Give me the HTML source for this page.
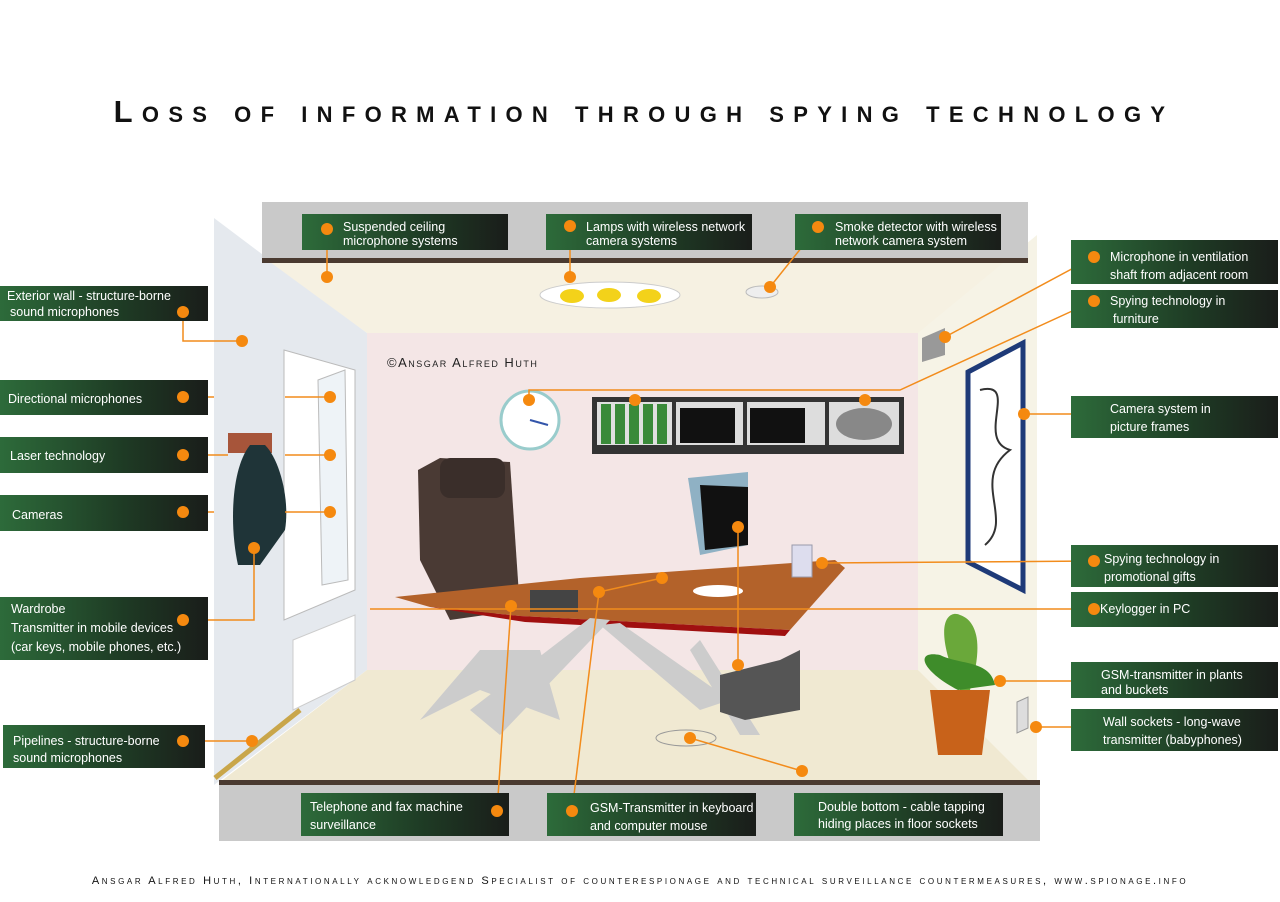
<!DOCTYPE html>
<html><head><meta charset="utf-8"><style>
body{margin:0;background:#fff;width:1280px;height:902px;overflow:hidden}
svg{display:block}
.t{font-family:"Liberation Sans",sans-serif;font-size:12.5px;fill:#fff}
</style></head><body>
<svg width="1280" height="902" viewBox="0 0 1280 902" xmlns="http://www.w3.org/2000/svg">
<defs>
<linearGradient id="g" x1="0" x2="1"><stop offset="0" stop-color="#2d6b3a"/><stop offset="0.6" stop-color="#1e3a24"/><stop offset="1" stop-color="#1a1d1a"/></linearGradient>
</defs>
<text x="644" y="122" text-anchor="middle" font-family="Liberation Sans,sans-serif" font-size="31" font-weight="bold" style="font-variant:small-caps" letter-spacing="9.3" fill="#111">Loss of information through spying technology</text>
<!-- room -->
<polygon points="214,218 367,333 367,670 214,785" fill="#e5e9ee"/>
<polygon points="270,262 1028,262 918,333 367,333" fill="#f6f1e2"/>
<polygon points="918,333 1037,235 1037,815 918,670" fill="#f6f3e6"/>
<rect x="367" y="333" width="551" height="337" fill="#f4e6e6"/>
<polygon points="367,670 918,670 1030,782 220,782" fill="#f0e9d2"/>
<rect x="262" y="202" width="766" height="58" fill="#c9c9c9"/>
<rect x="262" y="258" width="766" height="5" fill="#4a3a30"/>
<rect x="219" y="783" width="821" height="58" fill="#c9c9c9"/>
<rect x="219" y="780" width="821" height="5" fill="#4a3a30"/>
<text x="387" y="367" font-family="Liberation Sans,sans-serif" font-size="13" style="font-variant:small-caps" letter-spacing="1.5" fill="#222">©Ansgar Alfred Huth</text>
<!-- lamps -->
<ellipse cx="610" cy="295" rx="70" ry="13" fill="#fff" stroke="#ccc"/>
<ellipse cx="572" cy="296" rx="12" ry="7" fill="#f3d21a"/><ellipse cx="609" cy="295" rx="12" ry="7" fill="#f3d21a"/><ellipse cx="649" cy="296" rx="12" ry="7" fill="#f3d21a"/>
<ellipse cx="762" cy="292" rx="16" ry="6" fill="#eee" stroke="#bbb"/>
<!-- window -->
<polygon points="284,350 355,370 355,590 284,620" fill="#fff" stroke="#bbb"/>
<polygon points="318,380 345,370 348,580 322,585" fill="#eef3f7" stroke="#bbb"/>
<!-- coat -->
<rect x="228" y="433" width="44" height="20" fill="#a7553a"/>
<path d="M250,445 C230,470 230,530 238,565 L260,565 L285,530 C290,500 280,460 265,445Z" fill="#1f3438"/>
<!-- radiator -->
<polygon points="293,640 355,615 355,680 293,710" fill="#fff" stroke="#ccc"/>
<line x1="300" y1="710" x2="215" y2="778" stroke="#c9a64a" stroke-width="5"/>
<!-- clock & shelf -->
<circle cx="530" cy="420" r="29" fill="#fff" stroke="#9cc" stroke-width="3"/>
<line x1="530" y1="420" x2="548" y2="425" stroke="#35a" stroke-width="2"/>
<rect x="592" y="397" width="312" height="57" fill="#333"/>
<rect x="597" y="402" width="75" height="43" fill="#e0e0e0"/>
<rect x="601" y="404" width="10" height="40" fill="#3a8a3a"/><rect x="615" y="404" width="10" height="40" fill="#3a8a3a"/><rect x="629" y="404" width="10" height="40" fill="#3a8a3a"/><rect x="643" y="404" width="10" height="40" fill="#3a8a3a"/><rect x="657" y="404" width="10" height="40" fill="#3a8a3a"/>
<rect x="676" y="402" width="67" height="43" fill="#ddd"/><rect x="680" y="408" width="55" height="35" fill="#111"/>
<rect x="747" y="402" width="78" height="43" fill="#ddd"/><rect x="750" y="408" width="55" height="35" fill="#111"/>
<rect x="829" y="402" width="70" height="43" fill="#ddd"/><ellipse cx="864" cy="424" rx="28" ry="16" fill="#888"/>
<!-- vent & picture -->
<polygon points="922,338 945,328 945,355 922,362" fill="#999"/>
<polygon points="968,372 1023,343 1023,590 968,562" fill="#fff" stroke="#1e3a78" stroke-width="5"/>
<path d="M980,390 C1020,380 975,440 1010,450 C970,480 1015,520 985,545" stroke="#333" stroke-width="2" fill="none"/>
<!-- chair -->
<polygon points="418,470 440,458 510,462 520,610 450,620 420,560" fill="#4a3a34"/>
<rect x="440" y="458" width="65" height="40" rx="10" fill="#3a2e2a"/>
<polygon points="480,650 420,720 480,690 560,720 540,650" fill="#ccc"/>
<!-- desk -->
<polygon points="395,597 580,578 835,560 845,568 790,630 520,616 430,607" fill="#b3622a"/>
<polygon points="430,607 520,616 790,630 785,636 525,622" fill="#a01010"/>
<polygon points="470,710 590,618 610,620 500,735" fill="#ccc"/>
<polygon points="700,710 600,625 620,623 730,700" fill="#ccc"/>
<polygon points="700,640 760,735 740,735 690,650" fill="#ccc"/>
<!-- monitor -->
<polygon points="688,478 748,472 748,545 700,555" fill="#8fb1c4"/>
<polygon points="700,485 748,487 748,545 705,550" fill="#111"/>
<polygon points="720,675 780,660 800,650 800,710 745,720 720,712" fill="#555"/>
<rect x="530" y="590" width="48" height="22" fill="#444"/>
<ellipse cx="718" cy="591" rx="25" ry="6" fill="#fff"/>
<rect x="792" y="545" width="20" height="32" fill="#dde" stroke="#99a"/>
<!-- plant -->
<path d="M930,690 L990,690 L982,755 L938,755Z" fill="#c8621a"/>
<path d="M960,690 C930,620 950,610 960,615 C975,620 985,640 970,690Z" fill="#6aa83a"/>
<path d="M958,690 C920,670 915,650 940,655 C960,665 990,660 995,685Z" fill="#3e8c2a"/>
<polygon points="1017,702 1028,697 1028,728 1017,733" fill="#ddd" stroke="#999"/>
<ellipse cx="686" cy="738" rx="30" ry="8" fill="none" stroke="#999"/>
<!-- connector lines -->
<g stroke="#f28c1c" stroke-width="1.5" fill="none">
<polyline points="183,312 183,341 242,341"/><line x1="183" y1="397" x2="214" y2="397"/><line x1="183" y1="455" x2="228" y2="455"/><line x1="183" y1="512" x2="214" y2="512"/>
<polyline points="183,620 254,620 254,548"/><line x1="183" y1="741" x2="252" y2="741"/>
<line x1="327" y1="229" x2="327" y2="277"/><line x1="570" y1="226" x2="570" y2="277"/><line x1="818" y1="227" x2="770" y2="287"/>
<line x1="1094" y1="257" x2="945" y2="337"/><polyline points="1094,301 900,390 529,390 529,400"/>
<line x1="285" y1="397" x2="330" y2="397"/><line x1="285" y1="455" x2="330" y2="455"/><line x1="285" y1="512" x2="330" y2="512"/>
<line x1="1024" y1="414" x2="1094" y2="414"/><line x1="1094" y1="561" x2="822" y2="563"/><line x1="1094" y1="609" x2="370" y2="609"/>
<line x1="1000" y1="681" x2="1094" y2="681"/><line x1="1036" y1="727" x2="1094" y2="727"/>
<line x1="497" y1="811" x2="511" y2="606"/><line x1="572" y1="811" x2="599" y2="592"/><polyline points="802,771 690,738"/>
<line x1="738" y1="527" x2="738" y2="665"/><line x1="599" y1="592" x2="662" y2="578"/>
</g>
<!-- label boxes -->
<g>
<rect x="0" y="286" width="208" height="35" fill="url(#g)"/><text class="t" x="7" y="300">Exterior wall - structure-borne</text><text class="t" x="10" y="316">sound microphones</text>
<rect x="0" y="380" width="208" height="35" fill="url(#g)"/><text class="t" x="8" y="403">Directional microphones</text>
<rect x="0" y="437" width="208" height="36" fill="url(#g)"/><text class="t" x="10" y="460">Laser technology</text>
<rect x="0" y="495" width="208" height="36" fill="url(#g)"/><text class="t" x="12" y="519">Cameras</text>
<rect x="0" y="597" width="208" height="63" fill="url(#g)"/><text class="t" x="11" y="613">Wardrobe</text><text class="t" x="11" y="632">Transmitter in mobile devices</text><text class="t" x="11" y="651">(car keys, mobile phones, etc.)</text>
<rect x="3" y="725" width="202" height="43" fill="url(#g)"/><text class="t" x="13" y="745">Pipelines - structure-borne</text><text class="t" x="13" y="762">sound microphones</text>
<rect x="302" y="214" width="206" height="36" fill="url(#g)"/><text class="t" x="343" y="231">Suspended ceiling</text><text class="t" x="343" y="245">microphone systems</text>
<rect x="546" y="214" width="206" height="36" fill="url(#g)"/><text class="t" x="586" y="231">Lamps with wireless network</text><text class="t" x="586" y="245">camera systems</text>
<rect x="795" y="214" width="206" height="36" fill="url(#g)"/><text class="t" x="835" y="231">Smoke detector with wireless</text><text class="t" x="835" y="245">network camera system</text>
<rect x="1071" y="240" width="207" height="44" fill="url(#g)"/><text class="t" x="1110" y="261">Microphone in ventilation</text><text class="t" x="1110" y="279">shaft from adjacent room</text>
<rect x="1071" y="290" width="207" height="38" fill="url(#g)"/><text class="t" x="1110" y="305">Spying technology in</text><text class="t" x="1113" y="323">furniture</text>
<rect x="1071" y="396" width="207" height="42" fill="url(#g)"/><text class="t" x="1110" y="413">Camera system in</text><text class="t" x="1110" y="431">picture frames</text>
<rect x="1071" y="545" width="207" height="42" fill="url(#g)"/><text class="t" x="1104" y="563">Spying technology in</text><text class="t" x="1104" y="581">promotional gifts</text>
<rect x="1071" y="592" width="207" height="35" fill="url(#g)"/><text class="t" x="1100" y="613">Keylogger in PC</text>
<rect x="1071" y="662" width="207" height="36" fill="url(#g)"/><text class="t" x="1101" y="679">GSM-transmitter in plants</text><text class="t" x="1101" y="694">and buckets</text>
<rect x="1071" y="709" width="207" height="42" fill="url(#g)"/><text class="t" x="1103" y="726">Wall sockets - long-wave</text><text class="t" x="1103" y="744">transmitter (babyphones)</text>
<rect x="301" y="793" width="208" height="43" fill="url(#g)"/><text class="t" x="310" y="811">Telephone and fax machine</text><text class="t" x="310" y="829">surveillance</text>
<rect x="547" y="793" width="209" height="43" fill="url(#g)"/><text class="t" x="590" y="812">GSM-Transmitter in keyboard</text><text class="t" x="590" y="830">and computer mouse</text>
<rect x="794" y="793" width="209" height="43" fill="url(#g)"/><text class="t" x="818" y="811">Double bottom - cable tapping</text><text class="t" x="818" y="828">hiding places in floor sockets</text>
</g>
<!-- dots -->
<g fill="#f5890f">
<circle cx="183" cy="312" r="6"/><circle cx="242" cy="341" r="6"/><circle cx="183" cy="397" r="6"/><circle cx="183" cy="455" r="6"/><circle cx="183" cy="512" r="6"/><circle cx="183" cy="620" r="6"/><circle cx="254" cy="548" r="6"/><circle cx="183" cy="741" r="6"/><circle cx="252" cy="741" r="6"/>
<circle cx="330" cy="397" r="6"/><circle cx="330" cy="455" r="6"/><circle cx="330" cy="512" r="6"/>
<circle cx="327" cy="229" r="6"/><circle cx="327" cy="277" r="6"/><circle cx="570" cy="226" r="6"/><circle cx="570" cy="277" r="6"/><circle cx="818" cy="227" r="6"/><circle cx="770" cy="287" r="6"/>
<circle cx="1094" cy="257" r="6"/><circle cx="945" cy="337" r="6"/><circle cx="1094" cy="301" r="6"/><circle cx="529" cy="400" r="6"/><circle cx="635" cy="400" r="6"/><circle cx="865" cy="400" r="6"/>
<circle cx="1024" cy="414" r="6"/><circle cx="1094" cy="561" r="6"/><circle cx="822" cy="563" r="6"/><circle cx="1094" cy="609" r="6"/>
<circle cx="1000" cy="681" r="6"/><circle cx="1036" cy="727" r="6"/><circle cx="497" cy="811" r="6"/><circle cx="511" cy="606" r="6"/><circle cx="572" cy="811" r="6"/><circle cx="599" cy="592" r="6"/><circle cx="662" cy="578" r="6"/>
<circle cx="802" cy="771" r="6"/><circle cx="690" cy="738" r="6"/><circle cx="738" cy="527" r="6"/><circle cx="738" cy="665" r="6"/>
</g>
<text x="640" y="884" text-anchor="middle" font-family="Liberation Sans,sans-serif" font-size="11" style="font-variant:small-caps" letter-spacing="2.6" fill="#111">Ansgar Alfred Huth, Internationally acknowledgend Specialist of counterespionage and technical surveillance countermeasures, www.spionage.info</text>
</svg>
</body></html>
